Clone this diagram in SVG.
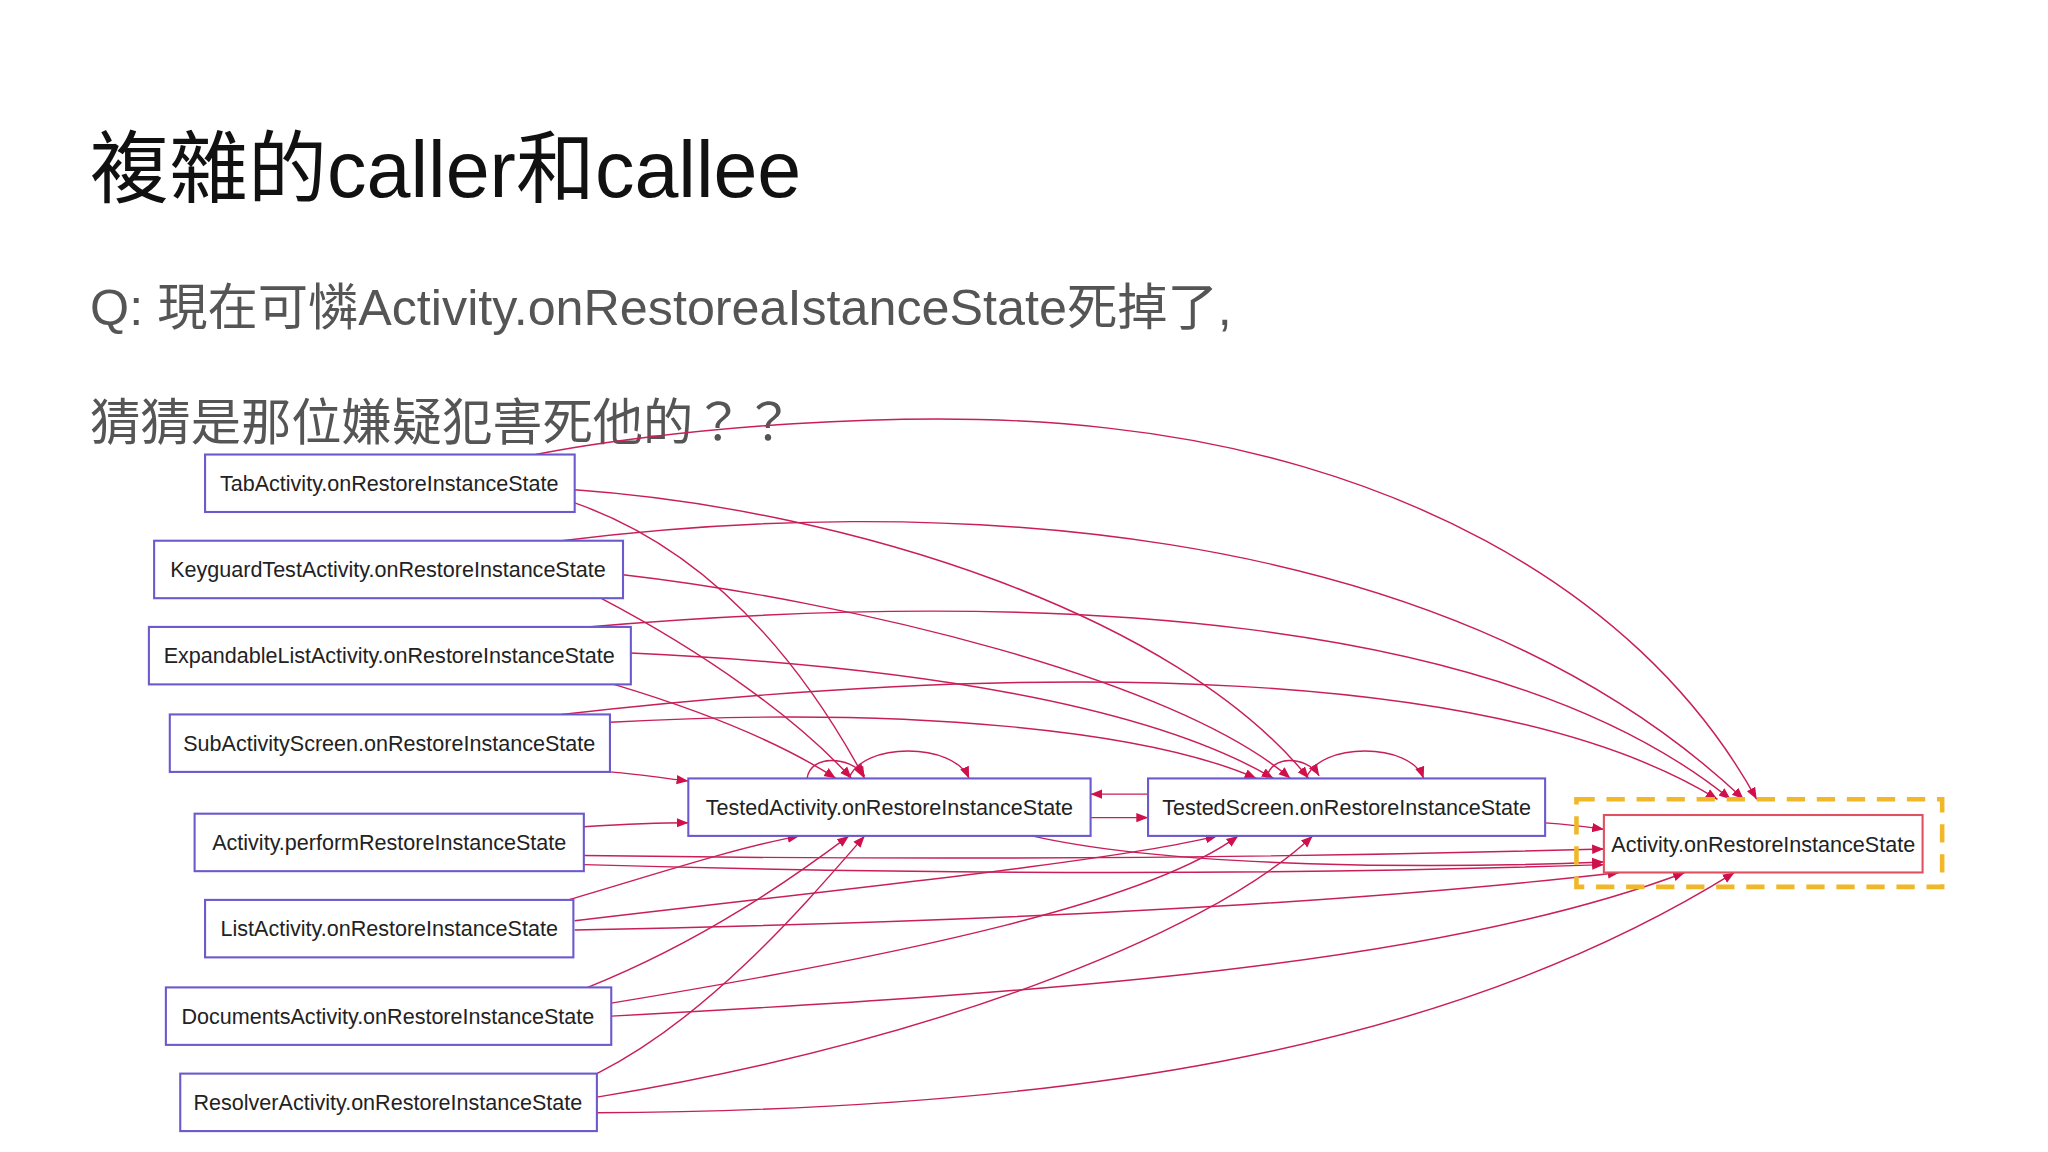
<svg xmlns="http://www.w3.org/2000/svg" width="2048" height="1152" viewBox="0 0 2048 1152">
<style>
.n rect{fill:#fff;stroke:#6a5acd;stroke-width:1.6}
.n text{font-family:"Liberation Sans",Arial,sans-serif;font-size:16.5px;fill:#222;text-anchor:middle}
.e path{fill:none;stroke:#c81e5a;stroke-width:1.1;marker-end:url(#a)}
.t{font-family:"Liberation Sans","Noto Sans CJK TC",sans-serif}
</style>
<defs><marker id="a" viewBox="0 0 10 10" refX="10" refY="5" markerWidth="9" markerHeight="9" markerUnits="userSpaceOnUse" orient="auto"><path d="M0,1L10,5L0,9z" fill="#d0104a"/></marker></defs>
<rect width="2048" height="1152" fill="#fff"/>
<g transform="scale(1.3061)">
<text class="t" x="69" y="151" font-size="60.5" fill="#111">複雜的caller和callee</text>
<text class="t" x="69" y="249" font-size="38.5" fill="#555">Q: 現在可憐Activity.onRestoreaIstanceState死掉了,</text>
<text class="t" x="69" y="337" font-size="38.5" fill="#555">猜猜是那位嫌疑犯害死他的？？</text>
<g id="connectors" class="e">
<path d="M440,385 C540,420 610,500 662,596"/>
<path d="M440,375 C650,390 900,470 1002,596"/>
<path d="M410,348 C500,330 700,310 850,328 C1050,350 1250,440 1345,612"/>
<path d="M460,458 C540,500 610,550 652,596"/>
<path d="M477,440 C650,460 900,520 988,596"/>
<path d="M430,414 C700,380 1100,390 1335,612"/>
<path d="M470,524 C540,545 600,570 640,596"/>
<path d="M483,500 C700,510 880,540 975,596"/>
<path d="M450,480 C800,450 1150,470 1325,612"/>
<path d="M467,591 C490,593 510,596 527,598"/>
<path d="M467,553 C700,540 880,560 962,596"/>
<path d="M430,547 C800,505 1150,510 1315,612"/>
<path d="M447,633 C480,631 505,630 527,630"/>
<path d="M447,655 C800,660 1050,655 1228,650"/>
<path d="M447,662 C800,672 1050,668 1228,662"/>
<path d="M435,689 C500,670 560,650 612,640"/>
<path d="M440,705 C650,680 850,660 932,640"/>
<path d="M440,712 C800,705 1050,690 1240,668"/>
<path d="M450,756 C540,720 610,670 650,640"/>
<path d="M468,768 C700,730 880,690 948,640"/>
<path d="M468,778 C800,760 1100,740 1290,668"/>
<path d="M457,822 C540,780 610,700 662,640"/>
<path d="M457,840 C700,800 920,720 1005,640"/>
<path d="M457,852 C800,850 1100,810 1328,668"/>
<path d="M835,626 L879,626"/>
<path d="M879,608 L835,608"/>
<path d="M618,596 C620,578 650,578 662,594"/>
<path d="M650,596 C660,568 730,568 742,596"/>
<path d="M970,596 C972,578 1000,578 1010,594"/>
<path d="M1000,596 C1010,568 1080,568 1090,596"/>
<path d="M790,640 C900,665 1100,665 1228,660"/>
<path d="M1183,630 C1200,631 1215,633 1228,635"/>
</g>
<g id="tab" class="n"><rect x="157" y="348" width="283" height="44"/><text x="298" y="376">TabActivity.onRestoreInstanceState</text></g>
<g id="keyguard" class="n"><rect x="118" y="414" width="359" height="44"/><text x="297" y="442">KeyguardTestActivity.onRestoreInstanceState</text></g>
<g id="expandable" class="n"><rect x="114" y="480" width="369" height="44"/><text x="298" y="508">ExpandableListActivity.onRestoreInstanceState</text></g>
<g id="sub" class="n"><rect x="130" y="547" width="337" height="44"/><text x="298" y="575">SubActivityScreen.onRestoreInstanceState</text></g>
<g id="perform" class="n"><rect x="149" y="623" width="298" height="44"/><text x="298" y="651">Activity.performRestoreInstanceState</text></g>
<g id="list" class="n"><rect x="157" y="689" width="282" height="44"/><text x="298" y="717">ListActivity.onRestoreInstanceState</text></g>
<g id="documents" class="n"><rect x="127" y="756" width="341" height="44"/><text x="297" y="784">DocumentsActivity.onRestoreInstanceState</text></g>
<g id="resolver" class="n"><rect x="138" y="822" width="319" height="44"/><text x="297" y="850">ResolverActivity.onRestoreInstanceState</text></g>
<g id="testedActivity" class="n"><rect x="527" y="596" width="308" height="44"/><text x="681" y="624">TestedActivity.onRestoreInstanceState</text></g>
<g id="testedScreen" class="n"><rect x="879" y="596" width="304" height="44"/><text x="1031" y="624">TestedScreen.onRestoreInstanceState</text></g>
<g id="activityRestore" class="n"><rect x="1228" y="624" width="244" height="44" style="stroke:#e05060"/><text x="1350" y="652">Activity.onRestoreInstanceState</text></g>
<rect id="highlight" x="1207" y="612" width="280" height="67" fill="none" stroke="#f0b828" stroke-width="3.5" stroke-dasharray="14,9"/>
</g>
</svg>
